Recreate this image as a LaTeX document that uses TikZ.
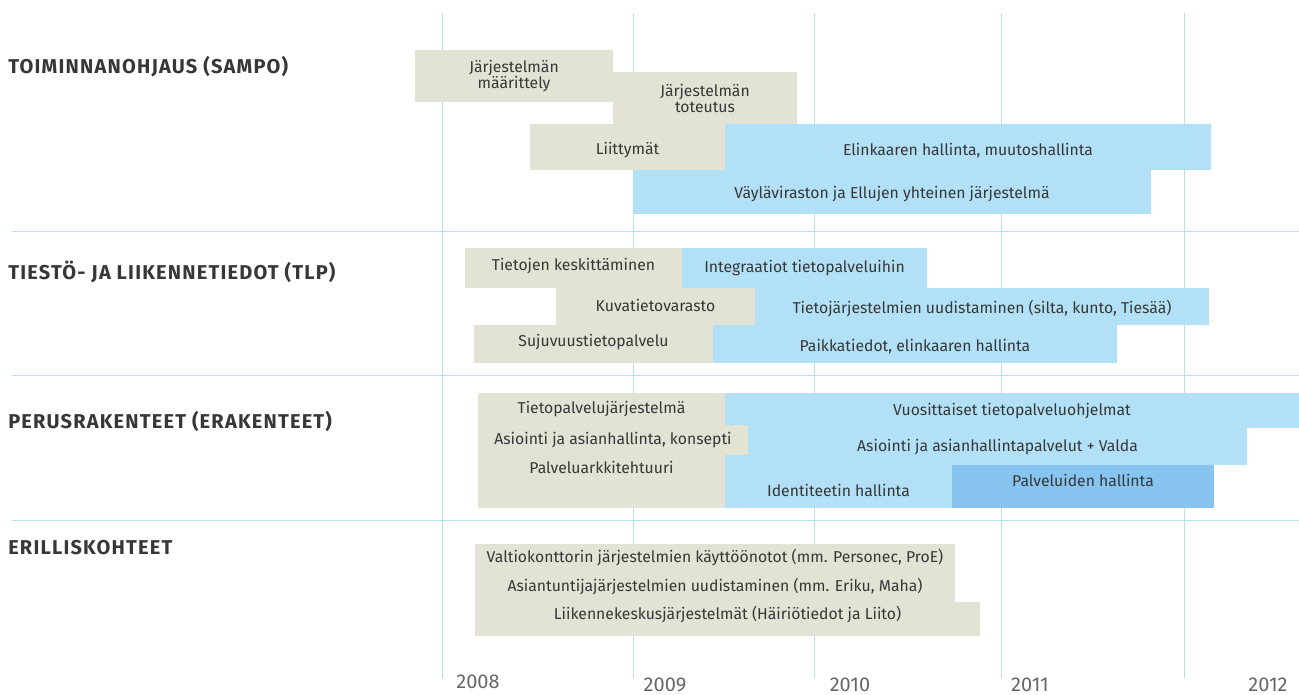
\documentclass[tikz,border=0pt]{standalone}
\usepackage{fontspec}
\setmainfont{Fira Sans}
\usepackage{tikz}
\usetikzlibrary{fit}

\definecolor{barbeige}{RGB}{226,226,213}
\definecolor{barblue}{RGB}{178,225,247}
\definecolor{bardeep}{RGB}{135,197,240}
\definecolor{gridteal}{RGB}{182,226,229}
\definecolor{inkgrey}{RGB}{55,55,55}

% text inside a bar, lowered a bit
\newcommand{\bartext}[2][-5pt]{\raisebox{#1}[\height][\depth]{#2}}

\tikzset{
  box/.style={inner sep=0pt, text=inkgrey, align=center, font=\fontsize{11.8}{12}\selectfont},
  greybar/.style={box, fill=barbeige},
  bluebar/.style={box, fill=barblue},
  deepbar/.style={box, fill=bardeep},
  heading/.style={anchor=west, inner sep=0pt, text=inkgrey, font=\fontsize{15}{16}\selectfont\bfseries\addfontfeatures{LetterSpace=6}},
  yearlabel/.style={anchor=base, inner sep=0pt, text=black!60, font=\fontsize{15}{18}\selectfont},
  gridline/.style={draw=gridteal, line width=0.7pt}
}

\begin{document}
\begin{tikzpicture}[x=0.75pt,y=0.75pt,yscale=-1,xscale=1]
\useasboundingbox (0,0) rectangle (1299,695);

% year grid
\foreach \gx in {442,633,814,1001,1184}
  \draw[gridline] (\gx,13) -- (\gx,678);
\foreach \gy in {231,375,520}
  \draw[gridline] (12,\gy) -- (1299,\gy);

% Text Node
\node[heading] (sampo) at (8,67) {TOIMINNANOHJAUS (SAMPO)};
\node[heading] (tlp) at (8,272) {TIESTÖ- JA LIIKENNETIEDOT (TLP)};
\node[heading] (perus) at (8,421) {PERUSRAKENTEET (ERAKENTEET)};
\node[heading] (erillis) at (8,548) {ERILLISKOHTEET};

% Toiminnanohjaus
\node[greybar, fit={(415,50) (613,102)}] (maarittely) {\bartext{Järjestelmän}\\\bartext{määrittely}};
\node[greybar, fit={(613,72) (797,124)}] (toteutus) {\bartext{Järjestelmän}\\\bartext{toteutus}};
\node[greybar, fit={(530,124) (725,170)}] (liittymat) {\bartext[-7pt]{Liittymät}};
\node[bluebar, fit={(725,124) (1211,170)}] (elinkaari) {\bartext[-7pt]{Elinkaaren hallinta, muutoshallinta}};
\node[bluebar, fit={(633,170) (1151,214)}] (yhteinen) {\bartext[-6pt]{Väyläviraston ja Ellujen yhteinen järjestelmä}};

% Tiestö- ja liikennetiedot
\node[greybar, fit={(465,248) (682,288)}] (keskittaminen) {\bartext[-3.5pt]{Tietojen keskittäminen}};
\node[bluebar, fit={(682,248) (927,288)}] (integraatiot) {\bartext{Integraatiot tietopalveluihin}};
\node[greybar, fit={(556,288) (755,325)}] (kuvavarasto) {\bartext[-3.5pt]{Kuvatietovarasto}};
\node[bluebar, fit={(755,288) (1209,325)}] (uudistaminen) {\bartext[-6.5pt]{Tietojärjestelmien uudistaminen (silta, kunto, Tiesää)}};
\node[greybar, fit={(474,325) (713,363)}] (sujuvuus) {\bartext[-3.5pt]{Sujuvuustietopalvelu}};
\node[bluebar, fit={(713,325) (1117,363)}] (paikkatiedot) {\bartext[-6.5pt]{Paikkatiedot, elinkaaren hallinta}};

% Perusrakenteet
\node[bluebar, fit={(725,393) (1299,428)}] (tpohjelmat) {\bartext{Vuosittaiset tietopalveluohjelmat}};
\node[bluebar, fit={(725,455) (952,508)}] (identiteetti) {\bartext[-11pt]{Identiteetin hallinta}};
\node[bluebar, fit={(748,428) (1247,465)}] (asiointipalv) {\bartext{Asiointi ja asianhallintapalvelut + Valda}};
\node[greybar, fit={(478,393) (725,425)}] (tpjarjestelma) {\bartext{Tietopalvelujärjestelmä}};
\node[greybar, fit={(478,425) (748,455)}] (asiointi) {\bartext{Asiointi ja asianhallinta, konsepti}};
\node[greybar, fit={(478,455) (725,508)}] (arkkitehtuuri) {\bartext[6pt]{Palveluarkkitehtuuri}};
\node[deepbar, fit={(952,465) (1214,508)}] (palveluhallinta) {\bartext[0pt]{Palveluiden hallinta}};

% Erilliskohteet
\node[greybar, fit={(475,544) (955,574)}] (valtiokonttori) {\bartext[-4pt]{Valtiokonttorin järjestelmien käyttöönotot (mm. Personec, ProE)}};
\node[greybar, fit={(475,574) (955,602)}] (asiantuntija) {\bartext[-4pt]{Asiantuntijajärjestelmien uudistaminen (mm. Eriku, Maha)}};
\node[greybar, fit={(475,602) (980,636)}] (liikennekeskus) {\bartext[-1.5pt]{Liikennekeskusjärjestelmät (Häiriötiedot ja Liito)}};

% years
\node[yearlabel] (y2008) at (478,688) {2008};
\node[yearlabel] (y2009) at (665,691) {2009};
\node[yearlabel] (y2010) at (850,691) {2010};
\node[yearlabel] (y2011) at (1030,691) {2011};
\node[yearlabel] (y2012) at (1268,691) {2012};

\end{tikzpicture}
\end{document}
